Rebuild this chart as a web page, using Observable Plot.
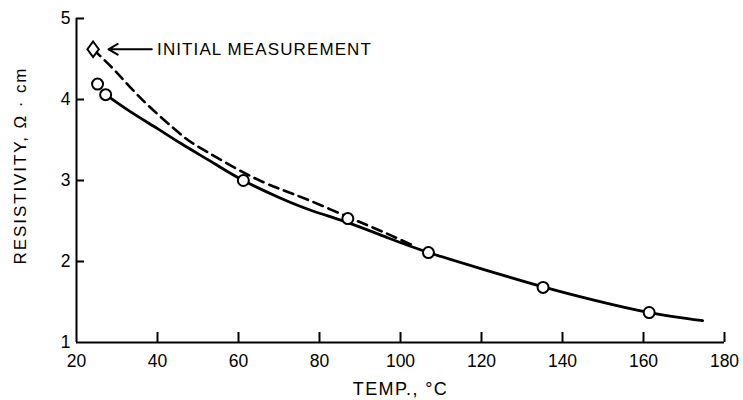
<!DOCTYPE html>
<html><head><meta charset="utf-8">
<script src="https://cdn.jsdelivr.net/npm/d3@7"></script>
<script src="https://cdn.jsdelivr.net/npm/@observablehq/plot@0.6"></script>
<style>
html,body{margin:0;padding:0;background:#fff;}
#chart{width:743px;height:400px;}
</style></head><body><div id="chart"></div>
<script>
// ---- data ----
const xTicks = [20, 40, 60, 80, 100, 120, 140, 160, 180];
const yTicks = [1, 2, 3, 4, 5];
const xLabel = "TEMP., °C";
const yLabel = "RESISTIVITY, Ω · cm";

// measured points (circles)
const pointT = [25.2, 27.2, 61.2, 87, 106.9, 135.2, 161.4];
const pointR = [4.19, 4.06, 3.0, 2.53, 2.11, 1.68, 1.37];

// initial measurement (diamond)
const initT = [24.1];
const initR = [4.62];

// solid fitted curve
const solidT = [27.2, 33, 40, 46, 54, 61.2, 70, 78, 87, 97, 107, 120, 135, 148, 161.4, 174.6];
const solidR = [4.06, 3.86, 3.64, 3.45, 3.21, 3.0, 2.79, 2.63, 2.48, 2.29, 2.11, 1.91, 1.69, 1.52, 1.37, 1.27];

// dashed curve (from initial measurement)
const dashT = [24.1, 30, 37, 45.5, 50, 61.2, 70, 77.7, 87, 95, 103];
const dashR = [4.62, 4.33, 3.96, 3.58, 3.42, 3.1, 2.9, 2.75, 2.55, 2.38, 2.2];

// annotation
const noteText = ["INITIAL MEASUREMENT"];
const noteTextT = [39.9];
const noteArrowFrom = [38.6];
const noteArrowTo = [27.9];
const noteR = [4.62];

// ---- build ----
const W = 743, H = 400, mL = 76, mR = 19, mT = 18, mB = 58;
const plotW = W - mL - mR, plotH = H - mT - mB;
const font = "'Liberation Sans', Arial, Helvetica, sans-serif";

const pts = pointT.map((t, i) => ({t, r: pointR[i]}));
const init = initT.map((t, i) => ({t, r: initR[i]}));
const solid = solidT.map((t, i) => ({t, r: solidR[i]}));
const dashed = dashT.map((t, i) => ({t, r: dashR[i]}));
const notes = noteText.map((s, i) => ({s, tx: noteTextT[i], x1: noteArrowFrom[i], x2: noteArrowTo[i], r: noteR[i]}));

const diamondSymbol = {
  draw(ctx, size) {
    const r = Math.sqrt(size / Math.PI);
    const w = r * 0.95, h = r * 1.3;
    ctx.moveTo(0, -h); ctx.lineTo(w, 0); ctx.lineTo(0, h); ctx.lineTo(-w, 0); ctx.closePath();
  }
};

const chart = Plot.plot({
  width: W, height: H,
  marginLeft: mL, marginRight: mR, marginTop: mT, marginBottom: mB,
  style: {fontFamily: font, background: "#fff", color: "#000"},
  x: {domain: [xTicks[0], xTicks[xTicks.length - 1]]},
  y: {domain: [yTicks[0], yTicks[yTicks.length - 1]]},
  marks: [
    Plot.axisX(xTicks, {tickSize: 0, tickPadding: 12, fontSize: 17.5, tickFormat: d => String(d), label: null}),
    Plot.axisY(yTicks, {tickSize: 0, tickPadding: 6, fontSize: 17.5, tickFormat: d => String(d), label: null}),
    Plot.ruleX(xTicks.slice(1), {x: d => d, insetTop: plotH - 10, strokeWidth: 2}),
    Plot.ruleY(yTicks.slice(1), {y: d => d, insetRight: plotW - 8, strokeWidth: 2}),
    Plot.ruleX([xTicks[0]], {x: d => d, strokeWidth: 2}),
    Plot.ruleY([yTicks[0]], {y: d => d, strokeWidth: 2}),
    Plot.line(dashed, {x: "t", y: "r", curve: "natural", stroke: "black", strokeWidth: 2.6, strokeDasharray: "10,6"}),
    Plot.line(solid, {x: "t", y: "r", curve: "natural", stroke: "black", strokeWidth: 2.8}),
    Plot.dot(pts, {x: "t", y: "r", r: 5.5, fill: "white", stroke: "black", strokeWidth: 2}),
    Plot.dot(init, {x: "t", y: "r", r: 6, symbol: diamondSymbol, fill: "white", stroke: "black", strokeWidth: 2}),
    Plot.arrow(notes, {x1: "x1", x2: "x2", y1: "r", y2: "r", stroke: "black", strokeWidth: 2, headLength: 8, headAngle: 60}),
    Plot.text(notes, {x: "tx", y: "r", text: "s", textAnchor: "start", fontSize: 17, fill: "black", className: "note"}),
    Plot.text([xLabel], {text: d => d, frameAnchor: "bottom", lineAnchor: "bottom", dy: 52, fontSize: 18, fill: "black", className: "xlab"}),
    Plot.text([yLabel], {text: d => d, frameAnchor: "left", textAnchor: "middle", rotate: -90, dx: -56, dy: -15, fontSize: 17, fill: "black", className: "ylab"})
  ]
});
d3.select(chart).selectAll(".note text").style("letter-spacing", "1.1px");
d3.select(chart).selectAll(".xlab text").style("letter-spacing", "1.4px");
d3.select(chart).selectAll(".ylab text").style("letter-spacing", "1.9px");
document.getElementById("chart").appendChild(chart);
</script>
</body></html>
